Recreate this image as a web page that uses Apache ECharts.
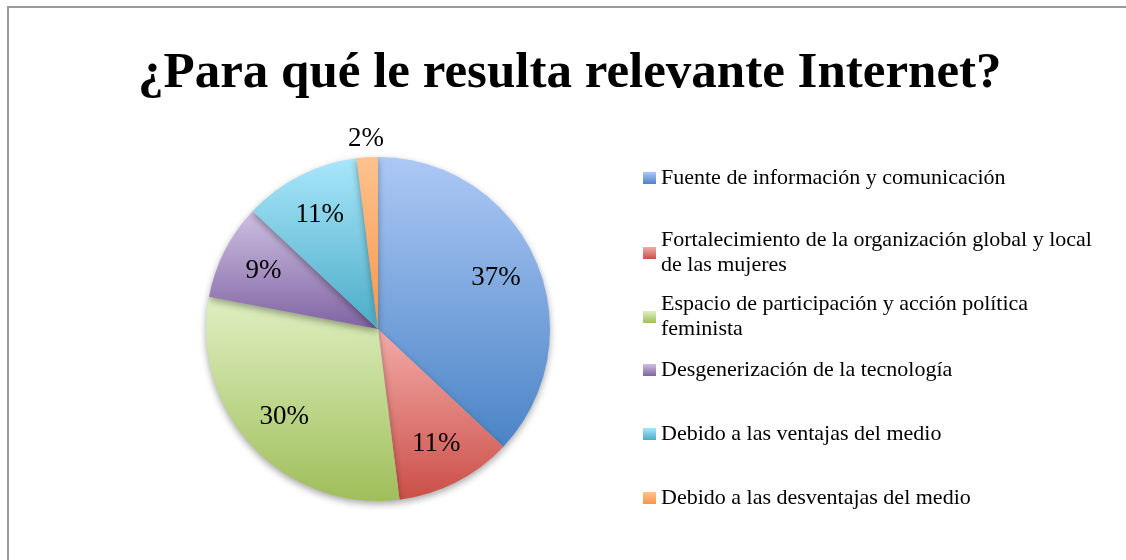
<!DOCTYPE html>
<html>
<head>
<meta charset="utf-8">
<script src="https://cdn.jsdelivr.net/npm/echarts@6/dist/echarts.min.js"></script>
<style>
  html, body { margin: 0; padding: 0; background: #fff; }
  #main { width: 1126px; height: 560px; }
</style>
</head>
<body>
<div id="main"></div>
<script>
// datos (porcentajes)
var categories = [
  'Fuente de información y comunicación',
  'Fortalecimiento de la organización global y local de las mujeres',
  'Espacio de participación y acción política feminista',
  'Desgenerización de la tecnología',
  'Debido a las ventajas del medio',
  'Debido a las desventajas del medio'
];
var values = [37, 11, 30, 9, 11, 2];
// texto de la leyenda con los saltos de linea del original
var legendLabels = [
  'Fuente de información y comunicación',
  'Fortalecimiento de la organización global y local\nde las mujeres',
  'Espacio de participación y acción política\nfeminista',
  'Desgenerización de la tecnología',
  'Debido a las ventajas del medio',
  'Debido a las desventajas del medio'
];
// colores degradados: arriba claro, abajo oscuro
var topColors = ['#adc8f5', '#f3aba8', '#dff0c2', '#cdbfe2', '#a8e6fa', '#fdc290'];
var bottomColors = ['#4a84c6', '#cb4f48', '#a0be5a', '#8064a2', '#4bacc6', '#f79646'];

var FONT = '"Liberation Serif", "DejaVu Serif", serif';
var center = [378, 329];
var R = 172;

var chart = echarts.init(document.getElementById('main'));

function grad(i) {
  return new echarts.graphic.LinearGradient(0, 0, 0, 1, [
    { offset: 0, color: topColors[i] },
    { offset: 1, color: bottomColors[i] }
  ]);
}

var pieData = [];
var labelData = [];
var outerLabelData = [];
for (var i = 0; i < categories.length; i++) {
  pieData.push({ name: categories[i], value: values[i], itemStyle: { color: grad(i) } });
  var small = values[i] < 5;
  labelData.push({ name: categories[i], value: values[i], label: { show: !small } });
  outerLabelData.push({ name: categories[i], value: values[i], label: { show: small } });
}

var legends = [];
for (var k = 0; k < categories.length; k++) {
  legends.push({
    data: [categories[k]],
    orient: 'vertical',
    left: 643,
    top: 178 + k * 64 - 12.5,
    padding: 0,
    icon: 'rect',
    itemWidth: 13,
    itemHeight: 12,
    itemGap: 0,
    selectedMode: false,
    formatter: (function (idx) { return function () { return legendLabels[idx]; }; })(k),
    textStyle: {
      fontFamily: FONT,
      fontSize: 22,
      color: '#000',
      lineHeight: 25,
      height: 25,
      padding: [0, 0, 0, 0]
    }
  });
}

var labelStyle = {
  position: 'inside',
  formatter: '{d}%',
  fontFamily: FONT,
  fontSize: 27,
  color: '#000'
};

var option = {
  animation: false,
  backgroundColor: '#fff',
  title: {
    text: '¿Para qué le resulta relevante Internet?',
    left: 138,
    top: 48,
    padding: 0,
    textStyle: {
      fontFamily: FONT,
      fontWeight: 'bold',
      fontSize: 51,
      lineHeight: 51,
      color: '#000'
    }
  },
  graphic: [{
    type: 'rect',
    silent: true,
    z: -1,
    shape: { x: 8, y: 7, width: 1140, height: 580 },
    style: { fill: 'none', stroke: '#9a9a9a', lineWidth: 2 }
  }],
  legend: legends,
  series: [
    {
      name: 'main',
      type: 'pie',
      center: center,
      radius: [0, R],
      startAngle: 90,
      clockwise: true,
      silent: true,
      label: { show: false },
      labelLine: { show: false },
      itemStyle: {
        borderWidth: 0,
        shadowBlur: 7,
        shadowOffsetY: 3,
        shadowColor: 'rgba(0,0,0,0.35)'
      },
      data: pieData
    },
    {
      // etiquetas interiores a ~3/4 del radio
      name: 'labels',
      type: 'pie',
      center: center,
      radius: [0, R * 1.46],
      startAngle: 90,
      silent: true,
      itemStyle: { color: 'rgba(0,0,0,0)' },
      label: labelStyle,
      labelLine: { show: false },
      emphasis: { disabled: true },
      data: labelData
    },
    {
      // etiqueta de la porcion pequena, fuera del circulo
      name: 'outer',
      type: 'pie',
      center: center,
      radius: [0, (R + 15) * 2],
      startAngle: 90,
      silent: true,
      itemStyle: { color: 'rgba(0,0,0,0)' },
      label: labelStyle,
      labelLine: { show: false },
      emphasis: { disabled: true },
      data: outerLabelData
    }
  ]
};

chart.setOption(option);
window.addEventListener('resize', chart.resize);
</script>
</body>
</html>
